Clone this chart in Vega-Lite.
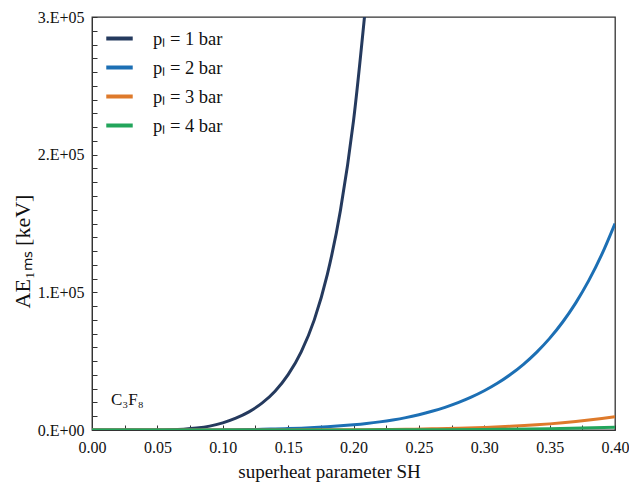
{
  "$schema": "https://vega.github.io/schema/vega-lite/v6.json",
  "width": 523,
  "height": 413,
  "autosize": {"type": "none"},
  "padding": {"left": 92, "top": 17, "right": 14, "bottom": 54},
  "background": "white",
  "config": {
    "font": "Liberation Serif",
    "view": {"stroke": "#333", "strokeWidth": 1.3}
  },
  "resolve": {"axis": {"x": "independent", "y": "independent"}},
  "layer": [
    {
      "data": {
        "values": [
          {"SH": 0.00, "AE": 0, "p": 1}, {"SH": 0.02, "AE": 0, "p": 1}, {"SH": 0.04, "AE": 0, "p": 1},
          {"SH": 0.05, "AE": 50, "p": 1}, {"SH": 0.06, "AE": 200, "p": 1}, {"SH": 0.07, "AE": 600, "p": 1},
          {"SH": 0.08, "AE": 1400, "p": 1}, {"SH": 0.09, "AE": 2800, "p": 1}, {"SH": 0.10, "AE": 5200, "p": 1},
          {"SH": 0.11, "AE": 8600, "p": 1}, {"SH": 0.12, "AE": 13200, "p": 1}, {"SH": 0.13, "AE": 19500, "p": 1},
          {"SH": 0.14, "AE": 28200, "p": 1}, {"SH": 0.15, "AE": 40200, "p": 1}, {"SH": 0.16, "AE": 56800, "p": 1},
          {"SH": 0.17, "AE": 80000, "p": 1}, {"SH": 0.18, "AE": 113000, "p": 1}, {"SH": 0.19, "AE": 159500, "p": 1},
          {"SH": 0.20, "AE": 224500, "p": 1}, {"SH": 0.21, "AE": 315500, "p": 1},

          {"SH": 0.00, "AE": 0, "p": 2}, {"SH": 0.05, "AE": 0, "p": 2}, {"SH": 0.08, "AE": 30, "p": 2},
          {"SH": 0.10, "AE": 120, "p": 2}, {"SH": 0.12, "AE": 330, "p": 2}, {"SH": 0.13, "AE": 500, "p": 2},
          {"SH": 0.14, "AE": 720, "p": 2}, {"SH": 0.15, "AE": 1000, "p": 2}, {"SH": 0.16, "AE": 1350, "p": 2},
          {"SH": 0.17, "AE": 1800, "p": 2}, {"SH": 0.18, "AE": 2350, "p": 2}, {"SH": 0.19, "AE": 3000, "p": 2},
          {"SH": 0.20, "AE": 3800, "p": 2}, {"SH": 0.21, "AE": 4750, "p": 2}, {"SH": 0.22, "AE": 5900, "p": 2},
          {"SH": 0.23, "AE": 7300, "p": 2}, {"SH": 0.24, "AE": 9000, "p": 2}, {"SH": 0.25, "AE": 11100, "p": 2},
          {"SH": 0.26, "AE": 13580, "p": 2}, {"SH": 0.27, "AE": 16480, "p": 2}, {"SH": 0.28, "AE": 19870, "p": 2},
          {"SH": 0.29, "AE": 23840, "p": 2}, {"SH": 0.30, "AE": 28480, "p": 2}, {"SH": 0.31, "AE": 33910, "p": 2},
          {"SH": 0.32, "AE": 40260, "p": 2}, {"SH": 0.33, "AE": 47690, "p": 2}, {"SH": 0.34, "AE": 56380, "p": 2},
          {"SH": 0.35, "AE": 66550, "p": 2}, {"SH": 0.36, "AE": 78450, "p": 2}, {"SH": 0.37, "AE": 92370, "p": 2},
          {"SH": 0.38, "AE": 108660, "p": 2}, {"SH": 0.39, "AE": 127720, "p": 2}, {"SH": 0.40, "AE": 150000, "p": 2},

          {"SH": 0.00, "AE": 0, "p": 3}, {"SH": 0.10, "AE": 0, "p": 3}, {"SH": 0.15, "AE": 50, "p": 3},
          {"SH": 0.20, "AE": 200, "p": 3}, {"SH": 0.22, "AE": 340, "p": 3}, {"SH": 0.24, "AE": 530, "p": 3},
          {"SH": 0.26, "AE": 820, "p": 3}, {"SH": 0.28, "AE": 1250, "p": 3}, {"SH": 0.30, "AE": 1850, "p": 3},
          {"SH": 0.32, "AE": 2650, "p": 3}, {"SH": 0.34, "AE": 3750, "p": 3}, {"SH": 0.35, "AE": 4450, "p": 3},
          {"SH": 0.36, "AE": 5250, "p": 3}, {"SH": 0.37, "AE": 6150, "p": 3}, {"SH": 0.38, "AE": 7200, "p": 3},
          {"SH": 0.39, "AE": 8400, "p": 3}, {"SH": 0.40, "AE": 9700, "p": 3},

          {"SH": 0.00, "AE": 0, "p": 4}, {"SH": 0.10, "AE": 0, "p": 4}, {"SH": 0.20, "AE": 60, "p": 4},
          {"SH": 0.25, "AE": 180, "p": 4}, {"SH": 0.30, "AE": 420, "p": 4}, {"SH": 0.35, "AE": 950, "p": 4},
          {"SH": 0.40, "AE": 2000, "p": 4}
        ]
      },
      "mark": {"type": "line", "strokeWidth": 3, "clip": true, "interpolate": "monotone"},
      "encoding": {
        "x": {
          "field": "SH",
          "type": "quantitative",
          "scale": {"domain": [0, 0.4], "nice": false, "zero": false},
          "axis": {
            "orient": "bottom",
            "title": "superheat parameter SH",
            "values": [0, 0.05, 0.1, 0.15, 0.2, 0.25, 0.3, 0.35, 0.4],
            "format": ".2f",
            "labelFontSize": 16,
            "grid": false,
            "tickSize": -5,
            "tickColor": "#333",
            "domainColor": "#333",
            "labelColor": "#111",
            "labelPadding": 14,
            "labelFlush": false,
            "labelOverlap": false,
            "titleFontSize": 19,
            "titleFontWeight": "normal",
            "titleColor": "#111",
            "titleX": 237,
            "titleY": 41,
            "titleBaseline": "middle"
          }
        },
        "y": {
          "field": "AE",
          "type": "quantitative",
          "scale": {"domain": [0, 300000], "nice": false},
          "axis": {
            "orient": "left",
            "title": "AE₁ₘₛ [keV]",
            "values": [0, 100000, 200000, 300000],
            "labelExpr": "datum.value == 0 ? '0.E+00' : (round(datum.value / 100000) + '.E+05')",
            "labelFontSize": 16,
            "grid": false,
            "tickSize": -5,
            "tickColor": "#333",
            "domainColor": "#333",
            "labelColor": "#111",
            "labelPadding": 13,
            "labelFlush": false,
            "labelOverlap": false,
            "titleFontSize": 22,
            "titleFontWeight": "normal",
            "titleColor": "#111",
            "titleX": -70,
            "titleY": 234,
            "titleBaseline": "middle",
            "titleAlign": "center"
          }
        },
        "color": {
          "field": "p",
          "type": "nominal",
          "scale": {"domain": [1, 2, 3, 4], "range": ["#253a5e", "#1c6fb4", "#de7a2b", "#22a55b"]},
          "legend": {
            "title": null,
            "orient": "none",
            "legendX": 12,
            "legendY": 6,
            "padding": 0,
            "symbolType": "stroke",
            "symbolStrokeWidth": 4,
            "symbolSize": 700,
            "labelFontSize": 18.5,
            "labelColor": "#111",
            "labelOffset": 18,
            "rowPadding": 4,
            "labelExpr": "'pₗ = ' + datum.label + ' bar'"
          }
        }
      }
    },
    {
      "data": {"values": [{"label": "C₃F₈"}]},
      "mark": {"type": "text", "fontSize": 17, "align": "left", "baseline": "middle", "color": "#111"},
      "encoding": {
        "x": {
          "datum": 0.0145,
          "scale": {"domain": [0, 0.4], "nice": false, "zero": false},
          "axis": {
            "orient": "bottom",
            "title": null,
            "values": [0.025, 0.075, 0.125, 0.175, 0.225, 0.275, 0.325, 0.375],
            "labels": false,
            "domain": false,
            "grid": false,
            "tickSize": -5,
            "tickColor": "#333"
          }
        },
        "y": {
          "datum": 21800,
          "scale": {"domain": [0, 300000], "nice": false},
          "axis": {
            "orient": "left",
            "title": null,
            "values": [10000, 20000, 30000, 40000, 50000, 60000, 70000, 80000, 90000, 110000, 120000, 130000, 140000, 150000, 160000, 170000, 180000, 190000, 210000, 220000, 230000, 240000, 250000, 260000, 270000, 280000, 290000],
            "labels": false,
            "domain": false,
            "grid": false,
            "tickSize": -5,
            "tickColor": "#333"
          }
        },
        "text": {"field": "label"}
      }
    }
  ]
}
